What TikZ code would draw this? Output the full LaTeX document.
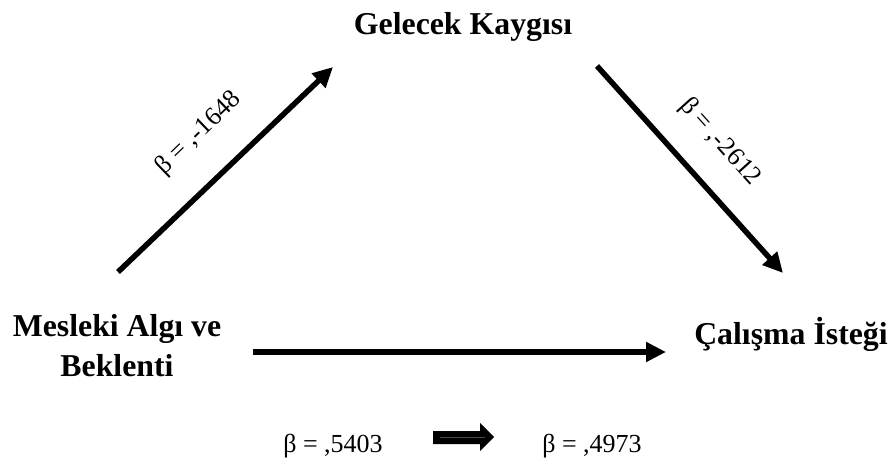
\documentclass[tikz,border=0pt]{standalone}
\usepackage{fontspec}
\setmainfont{Liberation Serif}
\usetikzlibrary{arrows.meta}
\begin{document}
\begin{tikzpicture}[x=1pt,y=-1pt,
  title/.style={font=\fontsize{31.8}{40}\selectfont\bfseries, inner sep=0pt},
  beta/.style={font=\fontsize{26}{30}\selectfont, inner sep=0pt},
  conn/.style={line width=5.5pt, -{Triangle[length=20pt,width=19pt]}}]
\useasboundingbox (0,0) rectangle (892,462);
\node[title, anchor=base] (gk) at (463,35) {Gelecek Kaygısı};
\node[title, align=center] (ma) at (117,346) {Mesleki Algı ve\\Beklenti};
\node[title, anchor=base] (ci) at (791,345) {Çalışma İsteği};
\coordinate (l1) at (118,272);
\coordinate (l2) at (333,67);
\coordinate (r1) at (597,66);
\coordinate (r2) at (783,273);
\coordinate (h1) at (253,352);
\coordinate (h2) at (666,352);
\draw[conn] (l1) -- (l2);
\draw[conn] (r1) -- (r2);
\draw[conn] (h1) -- (h2);
\node[beta, rotate=44] (bl) at (199,133) {β = ,-1648};
\node[beta, rotate=-48] (br) at (720,142) {β = ,-2612};
\node[beta, anchor=base] (b1) at (333,452) {β = ,5403};
\node[beta, anchor=base] (b2) at (592,452) {β = ,4973};
\fill[black] (433,431) -- (480,431) -- (480,423) -- (494,437) -- (480,451) -- (480,444) -- (433,444) -- cycle;
\draw[line width=1pt, color={rgb,255:red,50;green,75;blue,110}] (440,437.5) -- (485,437.5);
\end{tikzpicture}
\end{document}
